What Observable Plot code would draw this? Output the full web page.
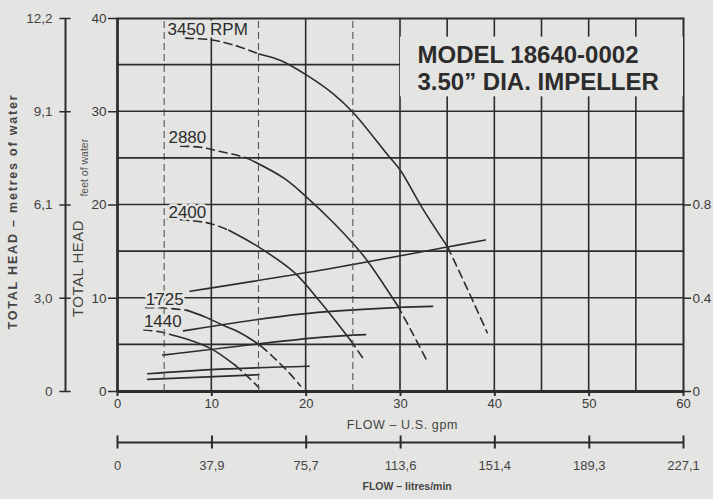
<!DOCTYPE html>
<html><head><meta charset="utf-8">
<script src="https://cdn.jsdelivr.net/npm/d3@7"></script>
<script src="https://cdn.jsdelivr.net/npm/@observablehq/plot@0.6"></script>
<style>
html,body{margin:0;padding:0;background:#e4e4e2;}
#chart{width:713px;height:499px;overflow:hidden;}
</style></head><body><div id="chart"></div>
<script>
// ---- tick labels / axes ----
const flowTicks = [0, 10, 20, 30, 40, 50, 60];
const feetTicks = [0, 10, 20, 30, 40];
const metreValues = [12.2, 9.1, 6.1, 3.0, 0];
const metreLabels = ["12,2", "9,1", "6,1", "3,0", "0"];
const hpTicks = [0, 0.4, 0.8];
const litreValues = [0, 37.9, 75.7, 113.6, 151.4, 189.3, 227.1];
const litreLabels = ["0", "37,9", "75,7", "113,6", "151,4", "189,3", "227,1"];
const gridSolidX = [10, 20, 30, 35, 40, 45, 50, 55];
const gridDashedX = [5, 15, 25];
const gridY = [5, 10, 15, 20, 25, 30, 35];

// ---- series: head (ft) vs flow (US gpm) ----
const rpmNames = ["3450 RPM", "2880", "2400", "1725", "1440"];
const headFlow3450 = [7.2, 10, 12.5, 15, 17.3, 20.1, 22.9, 25, 28.7, 30, 32.3, 35, 37, 39.2];
const head3450     = [37.9, 37.7, 37.1, 36.2, 35.5, 33.9, 31.9, 29.9, 25.3, 23.7, 19.7, 15.5, 11.2, 6.3];
const headFlow2880 = [6.7, 8.8, 10.6, 12.8, 13.8, 17.6, 20.1, 22.9, 25.2, 26.5, 29.7, 31.2, 32.7];
const head2880     = [26.3, 26.2, 25.8, 25.3, 25.0, 22.9, 20.8, 18.1, 15.6, 14.0, 9.2, 6.4, 3.5];
const headFlow2400 = [5.3, 8, 9.9, 11.8, 14.8, 18.7, 21.5, 24.7, 26.0];
const head2400     = [18.5, 18.3, 18.0, 17.3, 15.6, 12.8, 9.6, 5.5, 3.6];
const headFlow1725 = [3.0, 5.0, 7.4, 9.3, 11.2, 13.0, 15.2, 16.5, 18.2, 19.4];
const head1725     = [9.0, 8.95, 8.7, 8.0, 7.1, 6.3, 4.9, 3.7, 2.0, 0.6];
const headFlow1440 = [2.8, 4.5, 6.0, 7.4, 9.9, 11.0, 12.5, 13.8, 15.0];
const head1440     = [6.6, 6.4, 6.0, 5.6, 4.6, 3.9, 2.8, 1.6, 0.4];
// flow range where each head curve is drawn solid (dashed outside)
const solidRange3450 = [15, 35];
const solidRange2880 = [13.8, 29.7];
const solidRange2400 = [11.8, 24.7];
const solidRange1725 = [7.4, 15.2];
const solidRange1440 = [6.0, 12.5];

// ---- series: brake horsepower vs flow ----
const hpFlow3450 = [7.7, 21.5, 35, 39];
const hp3450     = [0.43, 0.52, 0.62, 0.65];
const hpFlow2880 = [7.0, 19.4, 29.7, 33.4];
const hp2880     = [0.26, 0.332, 0.36, 0.365];
const hpFlow2400 = [4.8, 21.5, 26.3];
const hp2400     = [0.156, 0.232, 0.244];
const hpFlow1725 = [3.2, 9.9, 20.3];
const hp1725     = [0.076, 0.094, 0.108];
const hpFlow1440 = [3.2, 15.0];
const hp1440     = [0.052, 0.072];

// label anchor points (flow, head) for each rpm
const labelFlow = [5.3, 5.4, 5.4, 3.0, 2.8];
const labelHead = [38.2, 26.7, 18.6, 9.3, 6.9];

const modelLines = ["MODEL 18640-0002", "3.50\u201D DIA. IMPELLER"];

// ---- build tables ----
const FT_PER_HP = 20 / 0.8; // right axis: 0.8 hp aligned with 20 ft
const heads = [
  [headFlow3450, head3450, solidRange3450],
  [headFlow2880, head2880, solidRange2880],
  [headFlow2400, head2400, solidRange2400],
  [headFlow1725, head1725, solidRange1725],
  [headFlow1440, head1440, solidRange1440]
];
const solidRows = [], dashRows = [];
heads.forEach(([fl, hd, [a, b]], k) => {
  fl.forEach((f, i) => {
    const p = {flow: f, head: hd[i]};
    if (f <= a) dashRows.push({...p, seg: k + "a"});
    if (f >= a && f <= b) solidRows.push({...p, seg: k + "s"});
    if (f >= b) dashRows.push({...p, seg: k + "b"});
  });
});
const powers = [[hpFlow3450, hp3450], [hpFlow2880, hp2880], [hpFlow2400, hp2400], [hpFlow1725, hp1725], [hpFlow1440, hp1440]];
const powerRows = [];
powers.forEach(([fl, hp], k) => fl.forEach((f, i) => powerRows.push({flow: f, ft: hp[i] * FT_PER_HP, seg: "p" + k})));

const BG = "#e4e4e2", INK = "#2c2c2c", TXT = "#3a3a3a";
const FONT = "'Liberation Sans', Arial, Helvetica, sans-serif";

const chart = Plot.plot({
  width: 713, height: 499,
  marginLeft: 117, marginRight: 30, marginTop: 18, marginBottom: 108,
  x: {domain: [0, 60]},
  y: {domain: [0, 40]},
  style: {background: BG, fontFamily: FONT, color: TXT, overflow: "visible"},
  marks: [
    // head curves
    Plot.line(solidRows, {x: "flow", y: "head", z: "seg", stroke: INK, strokeWidth: 1.6, curve: "catmull-rom"}),
    Plot.line(dashRows, {x: "flow", y: "head", z: "seg", stroke: INK, strokeWidth: 1.6, strokeDasharray: "8,5", curve: "catmull-rom"}),
    // power lines
    Plot.line(powerRows, {x: "flow", y: "ft", z: "seg", stroke: INK, strokeWidth: 1.6, curve: "catmull-rom"}),
    // model box
    Plot.rect([0], {x1: 30, x2: 60, y1: 31.6, y2: 38.0, fill: BG}),
    Plot.text(modelLines, {x: 31.8, y: (d, i) => [35.2, 32.3][i], text: d => d, textAnchor: "start",
      fontSize: 24, fontWeight: "bold", fill: INK, lineAnchor: "bottom"}),
    // rpm labels with halo
    Plot.text(rpmNames, {x: (d, i) => labelFlow[i], y: (d, i) => labelHead[i], text: d => d,
      textAnchor: "start", lineAnchor: "bottom", fontSize: 17, fill: INK,
      stroke: BG, strokeWidth: 5, paintOrder: "stroke"}),
    // frame
    Plot.frame({stroke: INK, strokeWidth: 2}),
    Plot.ruleY([0], {stroke: INK, strokeWidth: 3}),
    Plot.ruleX([0], {stroke: INK, strokeWidth: 2.5}),
    // axes
    Plot.axisX(flowTicks, {tickSize: 5, tickPadding: 2, fontSize: 13, label: null, stroke: INK, strokeWidth: 2}),
    Plot.axisY(feetTicks, {tickSize: 9, tickPadding: 2, fontSize: 13.5, label: null, stroke: INK, strokeWidth: 1.5}),
    Plot.axisY(hpTicks.map(h => h * FT_PER_HP), {anchor: "right", tickSize: 7, tickPadding: 2, fontSize: 13.5,
      tickFormat: d => String(+(d / FT_PER_HP).toFixed(1)), label: null, stroke: INK, strokeWidth: 1.5}),
    // metres axis (left)
    Plot.ruleX([0], {dx: -52, y1: 0, y2: 40, stroke: INK, strokeWidth: 2}),
    Plot.ruleY(metreValues, {y: m => Math.round(m / 0.3048), x1: -0.6, x2: 0.6, dx: -52, stroke: INK, strokeWidth: 1.5}),
    Plot.text(metreValues, {x: 0, y: m => Math.round(m / 0.3048), text: (d, i) => metreLabels[i], dx: -65,
      textAnchor: "end", fontSize: 13.5, fill: "#444"}),
    // litres/min axis (bottom)
    Plot.ruleY([0], {x1: 0, x2: 60, dy: 51, stroke: INK, strokeWidth: 2}),
    Plot.ruleX(litreValues, {x: l => l / 3.785, y1: -0.7, y2: 0.7, dy: 51, stroke: INK, strokeWidth: 2}),
    Plot.text(litreLabels, {x: (d, i) => litreValues[i] / 3.785, y: 0, dy: 74, text: d => d, fontSize: 13, fill: "#444"}),
    // axis titles
    Plot.text(["FLOW \u2013 U.S. gpm"], {x: 30.2, y: 0, dy: 33, text: d => d, fontSize: 12.5, fill: "#444"}),
    Plot.text(["FLOW \u2013 litres/min"], {x: 30.7, y: 0, dy: 95, text: d => d, fontSize: 10.5, fontWeight: "bold", fill: "#444"}),
    Plot.text(["TOTAL HEAD \u2013 metres of water"], {x: 0, y: 19.3, dx: -105, rotate: -90, text: d => d,
      fontSize: 12.5, fontWeight: "bold", fill: "#444"}),
    Plot.text(["TOTAL HEAD"], {x: 0, y: 13.2, dx: -39, rotate: -90, text: d => d, fontSize: 15, fill: "#444"}),
    Plot.text(["feet of water"], {x: 0, y: 24.0, dx: -33, rotate: -90, text: d => d, fontSize: 10.5, fill: "#555"})
  ]
});

// grid lines, positioned with the chart's own x / y scales, laid on top of everything
const sx = chart.scale("x"), sy = chart.scale("y");
const [y0, y1] = sy.domain, [x0, x1] = sx.domain;
const grid = d3.create("svg:g").attr("aria-label", "grid").attr("fill", "none");
gridDashedX.forEach(v => grid.append("line")
  .attr("x1", sx.apply(v)).attr("x2", sx.apply(v)).attr("y1", sy.apply(y0)).attr("y2", sy.apply(y1))
  .attr("stroke", "#555").attr("stroke-width", 1.1).attr("stroke-dasharray", "7,4"));
gridSolidX.forEach(v => grid.append("line")
  .attr("x1", sx.apply(v)).attr("x2", sx.apply(v)).attr("y1", sy.apply(y0)).attr("y2", sy.apply(y1))
  .attr("stroke", INK).attr("stroke-width", 1.6));
gridY.forEach(v => grid.append("line")
  .attr("x1", sx.apply(x0)).attr("x2", sx.apply(x1)).attr("y1", sy.apply(v)).attr("y2", sy.apply(v))
  .attr("stroke", INK).attr("stroke-width", 1.6));
chart.appendChild(grid.node());

// keep the model box and rpm labels above the grid
const groups = [...chart.querySelectorAll(":scope > g")];
const rectG = groups.find(g => g.getAttribute("aria-label") === "rect");
const modelG = groups.find(g => g.textContent.includes("MODEL 18640-0002"));
const rpmG = groups.find(g => g.textContent.includes("3450 RPM"));
[rectG, modelG, rpmG].forEach(g => { if (g) chart.appendChild(g); });

// wide letter spacing of the scanned axis titles
d3.select(chart).selectAll("text").each(function() {
  const t = this.textContent;
  if (t.startsWith("TOTAL HEAD \u2013")) this.style.letterSpacing = "1.8px";
  if (t === "TOTAL HEAD") this.style.letterSpacing = "0.5px";
  if (t.startsWith("FLOW \u2013 U.S.")) this.style.letterSpacing = "0.6px";
});
document.getElementById("chart").appendChild(chart);
</script></body></html>
